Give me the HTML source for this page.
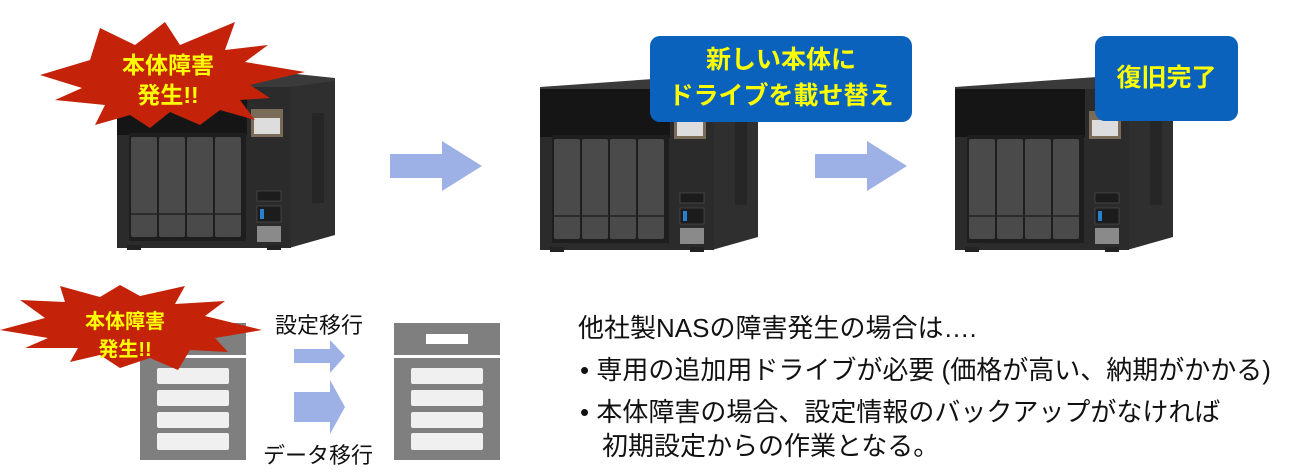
<!DOCTYPE html>
<html><head><meta charset="utf-8"><style>
body{margin:0;width:1289px;height:475px;background:#fff;position:relative;overflow:hidden;font-family:"Liberation Sans","Noto Sans CJK JP",sans-serif}
svg{position:absolute;left:0;top:0}
.t{position:absolute;white-space:nowrap;color:#111}
</style></head><body>
<svg width="1289" height="475" viewBox="0 0 1289 475">
<defs>
<g id="nas">
 <polygon points="0,12 170,0 218,5 218,12 175,15 0,15" fill="#3a3a3a"/>
 <polygon points="172,14 218,8 218,162 172,175" fill="#2f2f2f"/>
 <rect x="195" y="40" width="12" height="90" fill="#262626"/>
 <rect x="0" y="14" width="174" height="161" fill="#2b2b2b"/>
 <rect x="0" y="14" width="130" height="48" fill="#151515"/>
 <rect x="134" y="36" width="32" height="28" fill="#7a6a58"/>
 <rect x="137" y="45" width="26" height="16" fill="#ddd"/>
 <rect x="12" y="60" width="117" height="108" fill="#1e1e1e"/>
 <g fill="#4a4a4a">
  <rect x="14" y="64" width="26" height="100" rx="2"/>
  <rect x="42" y="64" width="26" height="100" rx="2"/>
  <rect x="70" y="64" width="26" height="100" rx="2"/>
  <rect x="98" y="64" width="26" height="100" rx="2"/>
 </g>
 <g stroke="#222" stroke-width="1.5"><line x1="14" y1="141" x2="124" y2="141"/></g>
 <rect x="140" y="118" width="24" height="10" fill="#1c1c1c" stroke="#555" stroke-width="0.6"/>
 <rect x="140" y="133" width="24" height="16" fill="#1c1c1c" stroke="#555" stroke-width="0.6"/>
 <rect x="143" y="136" width="4" height="10" fill="#2a7fd0"/>
 <rect x="140" y="153" width="24" height="16" fill="#8a8a8a"/>
 <rect x="10" y="172" width="14" height="5" fill="#222"/>
 <rect x="150" y="172" width="14" height="5" fill="#222"/>
</g>
<g id="arrow">
 <polygon points="0,13 52,13 52,0 92,25 52,50 52,37 0,37" fill="#9eb1e6"/>
</g>
</defs>
<use href="#nas" x="117" y="73"/>
<use href="#nas" x="540" y="75"/>
<use href="#nas" x="955" y="75"/>
<use href="#arrow" x="390" y="141"/>
<use href="#arrow" x="815" y="141"/>

<polygon points="40,75 90,60 100,28 135,45 165,22 180,45 235,22 225,50 268,45 245,62 305,72 250,85 270,98 240,100 255,120 220,110 200,125 170,112 150,128 130,115 95,125 105,105 55,100 82,88" fill="#c4230a"/>
<rect x="140" y="323" width="106" height="32" fill="#7f7f7f"/>
<rect x="140" y="358" width="106" height="102" fill="#7f7f7f"/>
<g fill="#f0f0f0"><rect x="157" y="368" width="72" height="16" rx="2"/><rect x="157" y="390" width="72" height="16" rx="2"/><rect x="157" y="412" width="72" height="16" rx="2"/><rect x="157" y="433" width="72" height="17" rx="2"/></g>
<rect x="394" y="323" width="106" height="32" fill="#7f7f7f"/>
<rect x="426" y="334" width="42" height="10" fill="#fff"/>
<rect x="394" y="358" width="106" height="102" fill="#7f7f7f"/>
<g fill="#f0f0f0"><rect x="411" y="368" width="72" height="16" rx="2"/><rect x="411" y="390" width="72" height="16" rx="2"/><rect x="411" y="412" width="72" height="16" rx="2"/><rect x="411" y="433" width="72" height="17" rx="2"/></g>
<polygon points="0,330 45,318 20,300 65,302 60,286 100,297 120,285 140,296 185,286 175,304 225,301 205,316 262,330 215,338 228,352 190,350 178,370 150,358 120,368 100,355 70,362 78,348 25,348 48,338" fill="#c4230a"/>
<polygon points="294,349 330,349 330,340 345,356 330,373 330,363 294,363" fill="#9eb1e6"/>
<polygon points="294,392 330,392 330,380 345,407 330,434 330,422 294,422" fill="#9eb1e6"/>
</svg>

<div class="t" style="left:113px;top:50px;width:110px;text-align:center;color:#ffff00;font-weight:bold;font-size:23px;line-height:30px">本体障害<br>発生!!</div>
<div class="t" style="left:70px;top:308px;width:110px;text-align:center;color:#ffff00;font-weight:bold;font-size:20px;line-height:28px">本体障害<br>発生!!</div>

<div style="position:absolute;left:650px;top:36px;width:262px;height:86px;background:#0b62bd;border-radius:10px"></div>
<div class="t" style="left:650px;top:42px;width:262px;text-align:center;color:#ffff00;font-weight:bold;font-size:25px;line-height:36px">新しい本体に<br>ドライブを載せ替え</div>
<div style="position:absolute;left:1095px;top:36px;width:143px;height:85px;background:#0b62bd;border-radius:10px"></div>
<div class="t" style="left:1095px;top:60px;width:143px;text-align:center;color:#ffff00;font-weight:bold;font-size:25px;line-height:36px">復旧完了</div>

<div class="t" style="left:275px;top:308px;font-size:22px">設定移行</div>
<div class="t" style="left:263px;top:438px;font-size:22px">データ移行</div>

<div class="t" style="left:578px;top:308px;font-size:26px">他社製NASの障害発生の場合は….</div>
<div class="t" style="left:580px;top:350px;font-size:26px">•&nbsp;専用の追加用ドライブが必要 (価格が高い、納期がかかる)</div>
<div class="t" style="left:580px;top:392px;font-size:26px">•&nbsp;本体障害の場合、設定情報のバックアップがなければ</div>
<div class="t" style="left:602px;top:426px;font-size:26px">初期設定からの作業となる。</div>
</body></html>
